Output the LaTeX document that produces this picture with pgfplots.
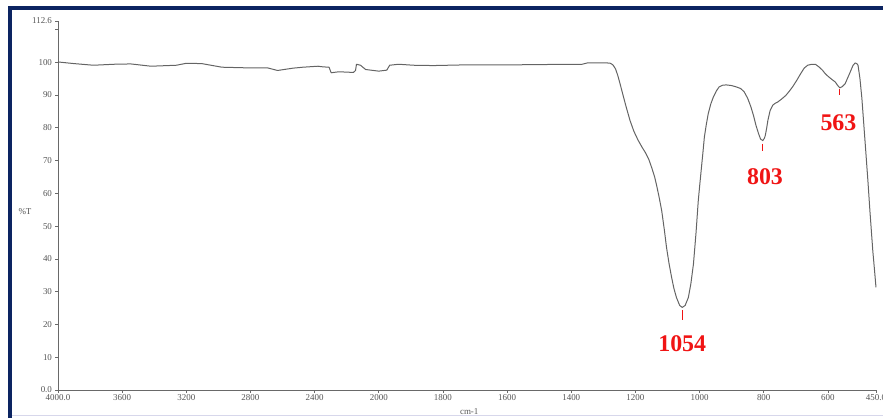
\documentclass[border=0pt]{standalone}
\usepackage{pgfplots}
\pgfplotsset{compat=1.18}
\usepackage{fontspec}
\setmainfont{Liberation Serif}
\definecolor{frameblue}{RGB}{12,36,97}
\definecolor{axgray}{RGB}{105,105,105}
\definecolor{lblgray}{RGB}{85,85,85}
\definecolor{curvegray}{RGB}{100,100,100}
\definecolor{pkred}{RGB}{240,20,20}
\definecolor{lav}{RGB}{215,215,235}
\begin{document}
\begin{tikzpicture}
\useasboundingbox (-58bp,-28bp) rectangle (825bp,390bp);
\fill[frameblue] (-50bp,380bp) rectangle (825bp,384bp);
\fill[frameblue] (-50bp,-28bp) rectangle (-46bp,384bp);
\fill[lav] (-46bp,-26bp) rectangle (825bp,-24.8bp);
\begin{axis}[
  at={(0,0)}, anchor=south west,
  scale only axis, width=818bp, height=369bp,
  x coord trafo/.code={\pgfmathparse{ifthenelse(#1>2000,1000+#1/2,#1)}},
  x coord inv trafo/.code={\pgfmathparse{ifthenelse(#1>2000,2*(#1-1000),#1)}},
  x dir=reverse,
  xmin=450, xmax=4000, ymin=0, ymax=112.6,
  axis lines*=left,
  axis line style={axgray, line width=0.9bp},
  tick style={axgray, line width=0.7bp},
  tick align=outside, major tick length=2.5bp,
  xtick={4000,3600,3200,2800,2400,2000,1800,1600,1400,1200,1000,800,600,450},
  xticklabels={4000.0,3600,3200,2800,2400,2000,1800,1600,1400,1200,1000,800,600,450.0},
  ytick={0,10,20,30,40,50,60,70,80,90,100,110,112.6},
  yticklabels={0.0,10,20,30,40,50,60,70,80,90,100,,112.6},
  ticklabel style={font=\fontsize{9}{10}\selectfont, text=lblgray},
  xticklabel style={yshift=1bp},
  /pgf/number format/assume math mode=true,
  clip=false,
]
\addplot[curvegray, line width=1bp, line join=round] coordinates {
(4000,100.1) (3900,99.6) (3779,99.1) (3650,99.4) (3546,99.5) (3420,98.8)
(3262,99.1) (3199,99.7) (3104,99.6) (2978,98.5) (2820,98.3) (2694,98.3)
(2631,97.5) (2536,98.2) (2473,98.5) (2379,98.8) (2347,98.6) (2310,98.5)
(2297,96.8) (2250,97.1) (2200,97.0) (2158,96.9) (2145,97.5) (2139,99.4)
(2114,99.1) (2082,97.8) (2050,97.6) (2000,97.3) (1975,97.6) (1966,99.1)
(1938,99.4) (1892,99.1) (1830,99.0) (1737,99.2) (1613,99.2) (1490,99.3)
(1428,99.4) (1366,99.4) (1350,99.8) (1288,99.8) (1278,99.7) (1270,99.2)
(1262,98.0) (1255,96.0) (1248,93.5) (1240,90.5) (1230,86.8) (1217,82.3)
(1205,79.0) (1192,76.3) (1180,74.2) (1168,72.3) (1158,70.3) (1149,67.8)
(1140,65.0) (1134,62.5) (1126,58.8) (1118,54.7) (1110,49.0) (1103,43.5)
(1095,38.5) (1087,34.3) (1080,31.0) (1072,28.2) (1062,25.8) (1054,25.2)
(1045,25.8) (1035,28.2) (1027,32.5) (1019,38.5) (1011,48.0) (1004,57.8)
(999,63.0) (994,68.0) (989,73.0) (985,77.2) (979,81.0) (973,84.3)
(965,87.3) (957,89.4) (948,91.2) (939,92.5) (928,93.0) (917,93.1)
(900,92.9) (886,92.5) (872,92.0) (861,91.0) (850,89.0) (840,86.4)
(832,83.8) (824,80.7) (816,78.2) (810,76.6) (803,76.1) (798,76.8)
(795,77.7) (791,79.8) (787,82.3) (780,85.3) (772,86.9) (764,87.5)
(756,87.9) (744,88.8) (731,89.9) (720,91.2) (710,92.5) (697,94.5)
(685,96.5) (674,98.2) (663,99.1) (650,99.4) (639,99.4) (628,98.6)
(617,97.6) (608,96.5) (598,95.6) (588,94.8) (577,94.0) (570,93.0)
(563,92.2) (555,92.6) (546,93.5) (538,95.3) (530,97.1) (522,99.0)
(515,99.8) (510,99.6) (506,99.1) (500,95.0) (494,89.0) (488,81.0)
(482,73.0) (475,63.5) (469,54.7) (460,42.5) (455,37.0) (450,31.3)
};
\addplot[pkred, line width=0.6bp] coordinates {(1054,24.3) (1054,21.5)};
\addplot[pkred, line width=0.6bp] coordinates {(803,75.2) (803,73.0)};
\addplot[pkred, line width=0.6bp] coordinates {(563,91.9) (563,89.9)};
\node[text=pkred, font=\fontsize{24}{26}\selectfont\bfseries] at (axis cs:1054,14) {1054};
\node[text=pkred, font=\fontsize{24}{26}\selectfont\bfseries] at (axis cs:796,65.1) {803};
\node[text=pkred, font=\fontsize{24}{26}\selectfont\bfseries] at (axis cs:567,81.7) {563};
\node[text=lblgray, font=\fontsize{9}{10}\selectfont] at (axis cs:1718,-6.7) {cm-1};
\end{axis}
\node[text=lblgray, font=\fontsize{9}{10}\selectfont] at (-33bp,178bp) {\%T};
\end{tikzpicture}
\end{document}
